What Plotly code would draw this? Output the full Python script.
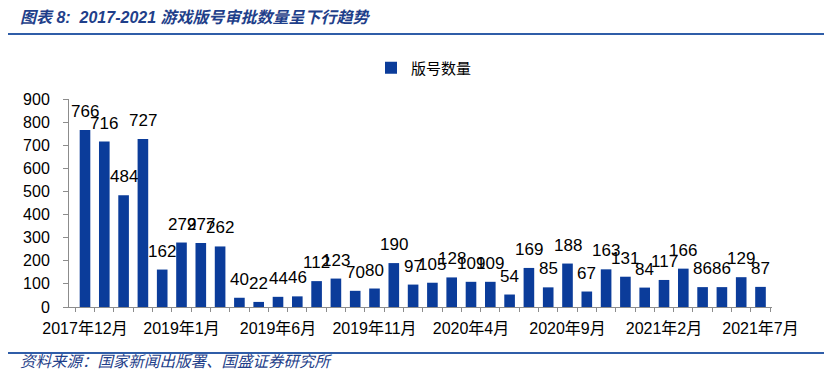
import plotly.graph_objects as go

categories = [
    "2017年12月", "2018年1月", "2018年2月", "2018年3月", "2018年12月",
    "2019年1月", "2019年2月", "2019年3月", "2019年4月", "2019年5月",
    "2019年6月", "2019年7月", "2019年8月", "2019年9月", "2019年10月",
    "2019年11月", "2019年12月", "2020年1月", "2020年2月", "2020年3月",
    "2020年4月", "2020年5月", "2020年6月", "2020年7月", "2020年8月",
    "2020年9月", "2020年10月", "2020年11月", "2020年12月", "2021年1月",
    "2021年2月", "2021年3月", "2021年4月", "2021年5月", "2021年6月",
    "2021年7月",
]
values = [
    766, 716, 484, 727, 162,
    279, 277, 262, 40, 22,
    44, 46, 112, 123, 70,
    80, 190, 97, 105, 128,
    109, 109, 54, 169, 85,
    188, 67, 163, 131, 84,
    117, 166, 86, 86, 129,
    87,
]
tick_labels = ["2017年12月", "2019年1月", "2019年6月", "2019年11月",
               "2020年4月", "2020年9月", "2021年2月", "2021年7月"]
y_ticks = [0, 100, 200, 300, 400, 500, 600, 700, 800, 900]

title_text = "图表 8:  2017-2021 游戏版号审批数量呈下行趋势"
source_text = "资料来源：国家新闻出版署、国盛证券研究所"
series_name = "版号数量"

BAR = "#0B3C9A"
TITLE_BLUE = "#1F3F8A"
LINE_BLUE = "#2F5DA8"
AXIS = "#8C8C8C"
FONT = "Liberation Sans, Noto Sans CJK SC, sans-serif"

# page body has an 8px default margin, so the figure starts at (8, 8)
OFF = 8
W, H = 832 - OFF, 372 - OFF
L, R, T, B = 69 - OFF, 60, 99 - OFF, 65
pw, ph = W - L - R, H - T - B

def px_x(p):
    return (p - OFF - L) / pw

def px_y(p):
    return (H - B - (p - OFF)) / ph

ticktext = [c if c in tick_labels else "" for c in categories]

fig = go.Figure()
fig.add_trace(go.Bar(
    x=categories, y=values, name=series_name,
    marker=dict(color=BAR, line=dict(width=0)),
    showlegend=True,
))

for c, v in zip(categories, values):
    fig.add_annotation(x=c, y=v, text=str(v), showarrow=False,
                       xref="x", yref="y", yanchor="bottom", yshift=7,
                       font=dict(family=FONT, size=17, color="#000000"))

fig.add_annotation(xref="paper", yref="paper", x=px_x(18), y=px_y(17),
                   xanchor="left", yanchor="middle", showarrow=False,
                   text="<b><i>" + title_text + "</i></b>",
                   font=dict(family=FONT, size=16, color=TITLE_BLUE))
fig.add_annotation(xref="paper", yref="paper", x=px_x(18), y=px_y(361),
                   xanchor="left", yanchor="middle", showarrow=False,
                   text="<i>" + source_text + "</i>",
                   font=dict(family=FONT, size=15.5, color=TITLE_BLUE))

fig.add_shape(type="line", xref="paper", yref="paper",
              x0=px_x(8), x1=px_x(832), y0=px_y(34), y1=px_y(34),
              line=dict(color=LINE_BLUE, width=2))
fig.add_shape(type="line", xref="paper", yref="paper",
              x0=px_x(8), x1=px_x(832), y0=px_y(353), y1=px_y(353),
              line=dict(color=LINE_BLUE, width=2))

fig.update_layout(
    width=W, height=H,
    margin=dict(l=L, r=R, t=T, b=B, pad=0, autoexpand=False),
    paper_bgcolor="white", plot_bgcolor="white",
    bargap=0.45,
    font=dict(family=FONT, size=16, color="#000000"),
    legend=dict(orientation="h", x=px_x(424), y=px_y(68),
                xanchor="center", yanchor="middle",
                font=dict(family=FONT, size=15, color="#000000"),
                itemwidth=30, bgcolor="rgba(0,0,0,0)"),
    xaxis=dict(
        type="category", tickmode="array", tickvals=categories, ticktext=ticktext,
        tickson="boundaries", ticks="outside", ticklen=4, tickcolor=AXIS,
        showline=True, linecolor=AXIS, linewidth=1, showgrid=False,
        tickangle=0, tickfont=dict(family=FONT, size=16, color="#000000"),
        ticklabelstandoff=7, automargin=False,
    ),
    yaxis=dict(
        range=[0, 900], tickmode="array", tickvals=y_ticks,
        ticks="outside", ticklen=5, tickcolor=AXIS,
        showline=True, linecolor=AXIS, linewidth=1, showgrid=False,
        zeroline=False, tickfont=dict(family=FONT, size=16, color="#000000"),
        ticklabelstandoff=10, automargin=False,
    ),
)

fig.write_html("out.html")
